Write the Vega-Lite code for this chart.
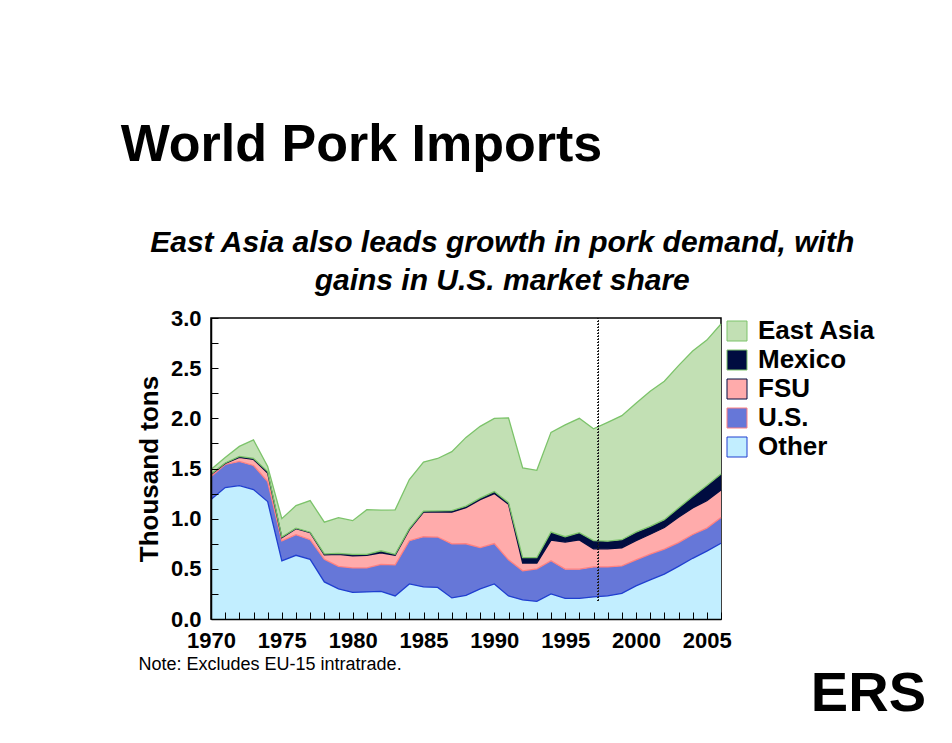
{
  "$schema": "https://vega.github.io/schema/vega-lite/v6.json",
  "background": "white",
  "padding": {"left": 120, "top": 119, "right": 0, "bottom": 0},
  "spacing": -8,
  "resolve": {"scale": {"color": "independent", "stroke": "independent"}, "legend": {"color": "independent"}},
  "title": {
    "text": "World Pork Imports",
    "anchor": "start",
    "frame": "bounds",
    "font": "Liberation Sans",
    "fontSize": 52,
    "fontWeight": "bold",
    "color": "black",
    "dx": -15,
    "offset": 55
  },
  "config": {
    "font": "Liberation Sans",
    "view": {"stroke": "black", "strokeWidth": 1.5},
    "axis": {
      "labelFont": "Liberation Sans",
      "labelFontWeight": "bold",
      "labelFontSize": 22,
      "labelColor": "black",
      "domainColor": "black",
      "domainWidth": 1.5,
      "tickColor": "black",
      "tickWidth": 1,
      "grid": false,
      "titleFont": "Liberation Sans",
      "titleColor": "black"
    },
    "legend": {
      "labelFont": "Liberation Sans",
      "labelFontWeight": "bold",
      "labelFontSize": 26,
      "labelColor": "black",
      "symbolType": "square",
      "symbolSize": 400,
      "symbolStrokeColor": "black",
      "symbolStrokeWidth": 1,
      "symbolOpacity": 1,
      "rowPadding": 3,
      "labelOffset": 8,
      "padding": 0,
      "offset": 0,
      "labelLimit": 300
    }
  },
  "vconcat": [
    {
      "width": 510,
      "height": 301,
      "title": {
        "text": ["East Asia also leads growth in pork demand, with", "gains in U.S. market share"],
        "anchor": "middle",
        "frame": "bounds",
        "font": "Liberation Sans",
        "fontSize": 30,
        "fontWeight": "bold",
        "fontStyle": "italic",
        "lineHeight": 38,
        "color": "black",
        "dx": -4,
        "offset": 11
      },
      "data": {
        "values": [
          {"year": 1970, "region": "Other", "value": 1.19}, {"year": 1970, "region": "U.S.", "value": 0.23}, {"year": 1970, "region": "FSU", "value": 0.02}, {"year": 1970, "region": "Mexico", "value": 0.005}, {"year": 1970, "region": "East Asia", "value": 0.045},
          {"year": 1971, "region": "Other", "value": 1.31}, {"year": 1971, "region": "U.S.", "value": 0.23}, {"year": 1971, "region": "FSU", "value": 0.01}, {"year": 1971, "region": "Mexico", "value": 0.005}, {"year": 1971, "region": "East Asia", "value": 0.055},
          {"year": 1972, "region": "Other", "value": 1.33}, {"year": 1972, "region": "U.S.", "value": 0.24}, {"year": 1972, "region": "FSU", "value": 0.04}, {"year": 1972, "region": "Mexico", "value": 0.01}, {"year": 1972, "region": "East Asia", "value": 0.10},
          {"year": 1973, "region": "Other", "value": 1.29}, {"year": 1973, "region": "U.S.", "value": 0.24}, {"year": 1973, "region": "FSU", "value": 0.06}, {"year": 1973, "region": "Mexico", "value": 0.01}, {"year": 1973, "region": "East Asia", "value": 0.185},
          {"year": 1974, "region": "Other", "value": 1.17}, {"year": 1974, "region": "U.S.", "value": 0.20}, {"year": 1974, "region": "FSU", "value": 0.085}, {"year": 1974, "region": "Mexico", "value": 0.015}, {"year": 1974, "region": "East Asia", "value": 0.05},
          {"year": 1975, "region": "Other", "value": 0.58}, {"year": 1975, "region": "U.S.", "value": 0.20}, {"year": 1975, "region": "FSU", "value": 0.03}, {"year": 1975, "region": "Mexico", "value": 0.007}, {"year": 1975, "region": "East Asia", "value": 0.183},
          {"year": 1976, "region": "Other", "value": 0.635}, {"year": 1976, "region": "U.S.", "value": 0.205}, {"year": 1976, "region": "FSU", "value": 0.06}, {"year": 1976, "region": "Mexico", "value": 0.005}, {"year": 1976, "region": "East Asia", "value": 0.225},
          {"year": 1977, "region": "Other", "value": 0.595}, {"year": 1977, "region": "U.S.", "value": 0.195}, {"year": 1977, "region": "FSU", "value": 0.07}, {"year": 1977, "region": "Mexico", "value": 0.005}, {"year": 1977, "region": "East Asia", "value": 0.315},
          {"year": 1978, "region": "Other", "value": 0.37}, {"year": 1978, "region": "U.S.", "value": 0.225}, {"year": 1978, "region": "FSU", "value": 0.045}, {"year": 1978, "region": "Mexico", "value": 0.01}, {"year": 1978, "region": "East Asia", "value": 0.315},
          {"year": 1979, "region": "Other", "value": 0.30}, {"year": 1979, "region": "U.S.", "value": 0.225}, {"year": 1979, "region": "FSU", "value": 0.12}, {"year": 1979, "region": "Mexico", "value": 0.01}, {"year": 1979, "region": "East Asia", "value": 0.355},
          {"year": 1980, "region": "Other", "value": 0.265}, {"year": 1980, "region": "U.S.", "value": 0.245}, {"year": 1980, "region": "FSU", "value": 0.12}, {"year": 1980, "region": "Mexico", "value": 0.015}, {"year": 1980, "region": "East Asia", "value": 0.335},
          {"year": 1981, "region": "Other", "value": 0.27}, {"year": 1981, "region": "U.S.", "value": 0.24}, {"year": 1981, "region": "FSU", "value": 0.125}, {"year": 1981, "region": "Mexico", "value": 0.01}, {"year": 1981, "region": "East Asia", "value": 0.445},
          {"year": 1982, "region": "Other", "value": 0.275}, {"year": 1982, "region": "U.S.", "value": 0.27}, {"year": 1982, "region": "FSU", "value": 0.115}, {"year": 1982, "region": "Mexico", "value": 0.02}, {"year": 1982, "region": "East Asia", "value": 0.405},
          {"year": 1983, "region": "Other", "value": 0.23}, {"year": 1983, "region": "U.S.", "value": 0.31}, {"year": 1983, "region": "FSU", "value": 0.095}, {"year": 1983, "region": "Mexico", "value": 0.01}, {"year": 1983, "region": "East Asia", "value": 0.443},
          {"year": 1984, "region": "Other", "value": 0.35}, {"year": 1984, "region": "U.S.", "value": 0.43}, {"year": 1984, "region": "FSU", "value": 0.11}, {"year": 1984, "region": "Mexico", "value": 0.01}, {"year": 1984, "region": "East Asia", "value": 0.49},
          {"year": 1985, "region": "Other", "value": 0.32}, {"year": 1985, "region": "U.S.", "value": 0.50}, {"year": 1985, "region": "FSU", "value": 0.245}, {"year": 1985, "region": "Mexico", "value": 0.01}, {"year": 1985, "region": "East Asia", "value": 0.489},
          {"year": 1986, "region": "Other", "value": 0.315}, {"year": 1986, "region": "U.S.", "value": 0.502}, {"year": 1986, "region": "FSU", "value": 0.251}, {"year": 1986, "region": "Mexico", "value": 0.01}, {"year": 1986, "region": "East Asia", "value": 0.522},
          {"year": 1987, "region": "Other", "value": 0.21}, {"year": 1987, "region": "U.S.", "value": 0.538}, {"year": 1987, "region": "FSU", "value": 0.317}, {"year": 1987, "region": "Mexico", "value": 0.015}, {"year": 1987, "region": "East Asia", "value": 0.588},
          {"year": 1988, "region": "Other", "value": 0.235}, {"year": 1988, "region": "U.S.", "value": 0.515}, {"year": 1988, "region": "FSU", "value": 0.36}, {"year": 1988, "region": "Mexico", "value": 0.015}, {"year": 1988, "region": "East Asia", "value": 0.685},
          {"year": 1989, "region": "Other", "value": 0.30}, {"year": 1989, "region": "U.S.", "value": 0.412}, {"year": 1989, "region": "FSU", "value": 0.478}, {"year": 1989, "region": "Mexico", "value": 0.015}, {"year": 1989, "region": "East Asia", "value": 0.715},
          {"year": 1990, "region": "Other", "value": 0.35}, {"year": 1990, "region": "U.S.", "value": 0.402}, {"year": 1990, "region": "FSU", "value": 0.498}, {"year": 1990, "region": "Mexico", "value": 0.02}, {"year": 1990, "region": "East Asia", "value": 0.73},
          {"year": 1991, "region": "Other", "value": 0.23}, {"year": 1991, "region": "U.S.", "value": 0.36}, {"year": 1991, "region": "FSU", "value": 0.555}, {"year": 1991, "region": "Mexico", "value": 0.015}, {"year": 1991, "region": "East Asia", "value": 0.845},
          {"year": 1992, "region": "Other", "value": 0.19}, {"year": 1992, "region": "U.S.", "value": 0.29}, {"year": 1992, "region": "FSU", "value": 0.077}, {"year": 1992, "region": "Mexico", "value": 0.055}, {"year": 1992, "region": "East Asia", "value": 0.893},
          {"year": 1993, "region": "Other", "value": 0.175}, {"year": 1993, "region": "U.S.", "value": 0.325}, {"year": 1993, "region": "FSU", "value": 0.058}, {"year": 1993, "region": "Mexico", "value": 0.054}, {"year": 1993, "region": "East Asia", "value": 0.87},
          {"year": 1994, "region": "Other", "value": 0.25}, {"year": 1994, "region": "U.S.", "value": 0.33}, {"year": 1994, "region": "FSU", "value": 0.206}, {"year": 1994, "region": "Mexico", "value": 0.081}, {"year": 1994, "region": "East Asia", "value": 0.993},
          {"year": 1995, "region": "Other", "value": 0.205}, {"year": 1995, "region": "U.S.", "value": 0.292}, {"year": 1995, "region": "FSU", "value": 0.27}, {"year": 1995, "region": "Mexico", "value": 0.053}, {"year": 1995, "region": "East Asia", "value": 1.115},
          {"year": 1996, "region": "Other", "value": 0.205}, {"year": 1996, "region": "U.S.", "value": 0.292}, {"year": 1996, "region": "FSU", "value": 0.291}, {"year": 1996, "region": "Mexico", "value": 0.072}, {"year": 1996, "region": "East Asia", "value": 1.14},
          {"year": 1997, "region": "Other", "value": 0.22}, {"year": 1997, "region": "U.S.", "value": 0.299}, {"year": 1997, "region": "FSU", "value": 0.18}, {"year": 1997, "region": "Mexico", "value": 0.083}, {"year": 1997, "region": "East Asia", "value": 1.113},
          {"year": 1998, "region": "Other", "value": 0.23}, {"year": 1998, "region": "U.S.", "value": 0.289}, {"year": 1998, "region": "FSU", "value": 0.18}, {"year": 1998, "region": "Mexico", "value": 0.077}, {"year": 1998, "region": "East Asia", "value": 1.184},
          {"year": 1999, "region": "Other", "value": 0.255}, {"year": 1999, "region": "U.S.", "value": 0.275}, {"year": 1999, "region": "FSU", "value": 0.18}, {"year": 1999, "region": "Mexico", "value": 0.08}, {"year": 1999, "region": "East Asia", "value": 1.237},
          {"year": 2000, "region": "Other", "value": 0.33}, {"year": 2000, "region": "U.S.", "value": 0.26}, {"year": 2000, "region": "FSU", "value": 0.19}, {"year": 2000, "region": "Mexico", "value": 0.085}, {"year": 2000, "region": "East Asia", "value": 1.285},
          {"year": 2001, "region": "Other", "value": 0.39}, {"year": 2001, "region": "U.S.", "value": 0.257}, {"year": 2001, "region": "FSU", "value": 0.198}, {"year": 2001, "region": "Mexico", "value": 0.078}, {"year": 2001, "region": "East Asia", "value": 1.347},
          {"year": 2002, "region": "Other", "value": 0.447}, {"year": 2002, "region": "U.S.", "value": 0.25}, {"year": 2002, "region": "FSU", "value": 0.215}, {"year": 2002, "region": "Mexico", "value": 0.078}, {"year": 2002, "region": "East Asia", "value": 1.38},
          {"year": 2003, "region": "Other", "value": 0.525}, {"year": 2003, "region": "U.S.", "value": 0.237}, {"year": 2003, "region": "FSU", "value": 0.253}, {"year": 2003, "region": "Mexico", "value": 0.091}, {"year": 2003, "region": "East Asia", "value": 1.419},
          {"year": 2004, "region": "Other", "value": 0.605}, {"year": 2004, "region": "U.S.", "value": 0.237}, {"year": 2004, "region": "FSU", "value": 0.265}, {"year": 2004, "region": "Mexico", "value": 0.113}, {"year": 2004, "region": "East Asia", "value": 1.45},
          {"year": 2005, "region": "Other", "value": 0.676}, {"year": 2005, "region": "U.S.", "value": 0.23}, {"year": 2005, "region": "FSU", "value": 0.274}, {"year": 2005, "region": "Mexico", "value": 0.15}, {"year": 2005, "region": "East Asia", "value": 1.45},
          {"year": 2006, "region": "Other", "value": 0.755}, {"year": 2006, "region": "U.S.", "value": 0.257}, {"year": 2006, "region": "FSU", "value": 0.273}, {"year": 2006, "region": "Mexico", "value": 0.161}, {"year": 2006, "region": "East Asia", "value": 1.494}
        ]
      },
      "transform": [
        {"calculate": "indexof(['Other', 'U.S.', 'FSU', 'Mexico', 'East Asia'], datum.region)", "as": "stackOrder"},
        {"stack": "value", "groupby": ["year"], "sort": [{"field": "stackOrder", "order": "ascending"}], "as": ["v0", "v1"]}
      ],
      "resolve": {"axis": {"x": "independent", "y": "independent"}},
      "layer": [
        {
          "mark": {"type": "area", "opacity": 1, "interpolate": "linear"},
          "encoding": {
            "x": {
              "field": "year",
              "type": "quantitative",
              "scale": {"domain": [1970, 2006], "nice": false, "zero": false},
              "axis": {
                "orient": "bottom",
                "values": [1970, 1975, 1980, 1985, 1990, 1995, 2000, 2005],
                "format": "d",
                "ticks": false,
                "labelPadding": 11,
                "labelFlush": false,
                "labelOverlap": false,
                "zindex": 1,
                "title": "Note: Excludes EU-15 intratrade.",
                "titleFontSize": 18,
                "titleFontWeight": "normal",
                "titleAnchor": "start",
                "titleAlign": "left",
                "titleBaseline": "alphabetic",
                "titleX": -73,
                "titleY": 50
              }
            },
            "y": {
              "field": "v1",
              "type": "quantitative",
              "scale": {"domain": [0, 3], "nice": false},
              "axis": {
                "orient": "left",
                "values": [0, 0.5, 1, 1.5, 2, 2.5, 3],
                "format": ".1f",
                "ticks": false,
                "labelPadding": 10,
                "labelFlush": false,
                "labelOverlap": false,
                "zindex": 1,
                "title": "Thousand tons",
                "titleFontSize": 26,
                "titleFontWeight": "bold",
                "titlePadding": 8
              }
            },
            "y2": {"field": "v0"},
            "color": {
              "field": "region",
              "type": "nominal",
              "scale": {
                "domain": ["East Asia", "Mexico", "FSU", "U.S.", "Other"],
                "range": ["#c2e0b4", "#000c40", "#ffabab", "#6677d8", "#c2eeff"]
              },
              "legend": {"title": null}
            }
          }
        },
        {
          "mark": {"type": "line", "strokeWidth": 1.3, "interpolate": "linear"},
          "encoding": {
            "x": {
              "field": "year",
              "type": "quantitative",
              "axis": {
                "orient": "bottom",
                "values": [1970, 1971, 1972, 1973, 1974, 1975, 1976, 1977, 1978, 1979, 1980, 1981, 1982, 1983, 1984, 1985, 1986, 1987, 1988, 1989, 1990, 1991, 1992, 1993, 1994, 1995, 1996, 1997, 1998, 1999, 2000, 2001, 2002, 2003, 2004, 2005, 2006],
                "labels": false,
                "domain": false,
                "ticks": true,
                "tickSize": 7,
                "offset": -7,
                "zindex": 1,
                "title": null
              }
            },
            "y": {
              "field": "v1",
              "type": "quantitative",
              "axis": {
                "orient": "left",
                "values": [0, 0.25, 0.5, 0.75, 1, 1.25, 1.5, 1.75, 2, 2.25, 2.5, 2.75, 3],
                "labels": false,
                "domain": false,
                "ticks": true,
                "tickSize": 7,
                "offset": -7,
                "zindex": 1,
                "title": null
              }
            },
            "detail": {"field": "region", "type": "nominal"},
            "stroke": {
              "field": "region",
              "type": "nominal",
              "scale": {
                "domain": ["East Asia", "Mexico", "FSU", "U.S.", "Other"],
                "range": ["#7cc36a", "#7cc36a", "#000c40", "#ff8080", "#1f3fd0"]
              },
              "legend": null
            }
          }
        },
        {
          "mark": {"type": "rule", "color": "#222222", "strokeWidth": 1, "strokeDash": [1, 2]},
          "encoding": {
            "x": {"datum": 1997.35, "axis": null},
            "y": {"datum": 0.18, "axis": null},
            "y2": {"datum": 3}
          }
        }
      ]
    },
    {
      "width": 715,
      "height": 1,
      "view": {"stroke": null},
      "data": {"values": []},
      "mark": "rule",
      "encoding": {},
      "title": {
        "text": "ERS",
        "orient": "top",
        "anchor": "end",
        "frame": "group",
        "font": "Liberation Sans",
        "fontSize": 56,
        "fontWeight": "bold",
        "color": "black",
        "offset": 0
      }
    }
  ]
}
